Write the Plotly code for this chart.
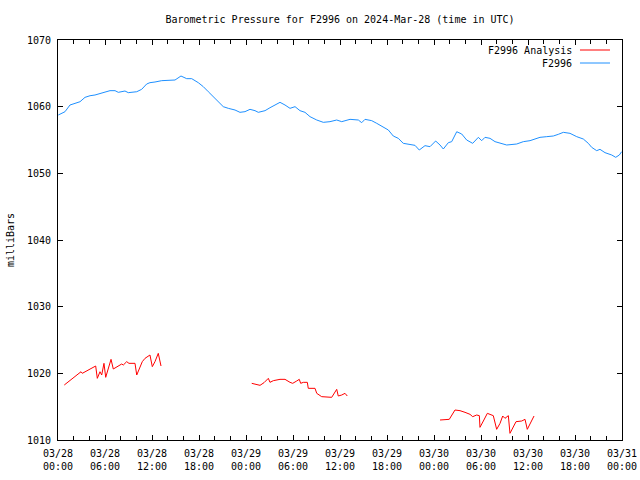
import plotly.graph_objects as go

# Blue series: F2996 (hours since 2024-03-28 00:00 UTC, millibars)
blue_hours = [0.04, 0.89, 1.53, 2.17, 2.81, 3.45, 4.09, 4.72, 5.58, 6.64, 7.28, 7.70, 8.55, 8.97,
              10.05, 10.68, 11.32, 11.74, 12.38, 13.24, 14.94, 15.70, 16.43, 17.07, 17.91, 18.55,
              19.19, 19.83, 20.46, 21.10, 21.74, 22.60, 23.23, 23.87, 24.51, 25.15, 25.57, 26.43,
              27.06, 27.70, 28.34, 28.98, 29.62, 30.26, 30.89, 31.53, 32.17, 33.03, 33.87, 34.72,
              35.58, 36.22, 37.28, 38.34, 38.77, 39.19, 40.05, 40.69, 41.53, 42.17, 42.80, 43.44,
              44.08, 44.94, 45.57, 46.12, 46.85, 47.49, 48.21, 48.77, 49.19, 49.83, 50.26, 50.90,
              51.54, 52.17, 52.60, 52.94, 53.66, 54.09, 54.51, 55.15, 55.79, 56.64, 57.28, 58.56,
              59.40, 60.26, 60.89, 61.53, 62.39, 63.23, 63.87, 64.51, 65.36, 66.22, 67.06, 67.70,
              68.13, 68.77, 69.19, 69.83, 70.69, 71.20, 71.66, 71.96]
blue_values = [1058.75, 1059.24, 1060.25, 1060.5, 1060.74, 1061.4, 1061.64, 1061.75, 1062.0, 1062.4,
               1062.4, 1062.15, 1062.35, 1062.1, 1062.24, 1062.6, 1063.4, 1063.6, 1063.7, 1063.9,
               1064.0, 1064.6, 1064.2, 1064.2, 1063.6, 1063.0, 1062.24, 1061.5, 1060.74, 1060.0,
               1059.75, 1059.5, 1059.15, 1059.25, 1059.6, 1059.4, 1059.15, 1059.4, 1059.84, 1060.25,
               1060.65, 1060.25, 1059.75, 1060.0, 1059.4, 1059.15, 1058.5, 1058.0, 1057.65, 1057.75,
               1058.0, 1057.75, 1058.1, 1058.0, 1057.6, 1058.1, 1057.9, 1057.5, 1056.9, 1056.5,
               1055.6, 1055.25, 1054.5, 1054.35, 1054.2, 1053.5, 1054.15, 1054.0, 1054.85, 1054.25,
               1053.65, 1054.6, 1054.75, 1056.24, 1055.9, 1055.0, 1054.75, 1054.5, 1055.4, 1054.9,
               1055.4, 1055.25, 1054.75, 1054.5, 1054.25, 1054.4, 1054.75, 1054.9, 1055.15, 1055.4,
               1055.5, 1055.6, 1055.85, 1056.15, 1056.0, 1055.5, 1055.15, 1054.5, 1053.9, 1053.4,
               1053.6, 1053.1, 1052.75, 1052.4, 1052.75, 1053.25]

# Red series: F2996 Analysis (None = gap)
red_hours = [0.80, 1.53, 2.17, 2.94, 3.10, 3.66, 4.30, 4.81, 5.02, 5.36, 5.58, 5.87, 6.09, 6.77,
             7.06, 7.70, 8.13, 8.34, 8.77, 9.06, 9.83, 10.05, 10.76, 11.11, 11.74, 12.04, 12.38,
             12.80, 13.15, None,
             24.73, 25.28, 25.79, 26.30, 26.85, 27.06, 27.49, 28.34, 28.98, 29.62, 29.96, 30.47,
             30.80, 30.98, 31.32, 31.83, 31.95, 32.81, 33.03, 33.66, 34.72, 34.94, 35.58, 35.78,
             36.22, 36.64, 36.93, None,
             48.77, 49.95, 50.68, 51.32, 51.96, 52.60, 52.94, 53.45, 53.79, 53.87, 54.30, 54.81,
             55.57, 56.00, 56.43, 56.77, 57.06, 57.49, 57.70, 58.47, 59.20, 59.62, 59.91, 60.77]
red_values = [1018.25, 1018.9, 1019.5, 1020.24, 1020.0, 1020.4, 1020.75, 1021.1, 1019.25, 1020.24,
              1019.75, 1021.5, 1019.4, 1022.1, 1020.65, 1021.1, 1021.4, 1021.25, 1021.75, 1021.5,
              1021.5, 1019.75, 1021.75, 1022.25, 1022.75, 1021.0, 1021.75, 1023.0, 1021.1, None,
              1018.5, 1018.4, 1018.2, 1018.6, 1019.25, 1018.65, 1018.9, 1019.1, 1019.1, 1018.65,
              1018.5, 1018.85, 1019.1, 1018.5, 1018.65, 1018.65, 1017.75, 1017.75, 1017.0, 1016.5,
              1016.4, 1016.4, 1017.6, 1016.6, 1016.75, 1017.0, 1016.6, None,
              1013.0, 1013.1, 1014.5, 1014.4, 1014.15, 1013.85, 1013.5, 1013.75, 1013.65, 1011.9,
              1012.85, 1014.0, 1013.65, 1011.6, 1012.5, 1013.6, 1013.25, 1013.65, 1011.0, 1012.75,
              1012.85, 1013.1, 1011.6, 1013.6]

x_tickvals = [0, 6, 12, 18, 24, 30, 36, 42, 48, 54, 60, 66, 72]
x_ticktext = ["03/28<br>00:00", "03/28<br>06:00", "03/28<br>12:00", "03/28<br>18:00",
              "03/29<br>00:00", "03/29<br>06:00", "03/29<br>12:00", "03/29<br>18:00",
              "03/30<br>00:00", "03/30<br>06:00", "03/30<br>12:00", "03/30<br>18:00",
              "03/31<br>00:00"]
y_tickvals = [1010, 1020, 1030, 1040, 1050, 1060, 1070]

RED = "#FF0000"
BLUE = "#1E90FF"
FONT = "DejaVu Sans Mono"

fig = go.Figure()
fig.add_trace(go.Scatter(x=red_hours, y=red_values, mode="lines", connectgaps=False,
                         line=dict(color=RED, width=1), name="F2996 Analysis", showlegend=False))
fig.add_trace(go.Scatter(x=blue_hours, y=blue_values, mode="lines",
                         line=dict(color=BLUE, width=1), name="F2996", showlegend=False))

axis_common = dict(showgrid=False, zeroline=False, showline=True, linecolor="black", linewidth=1,
                   mirror="ticks", ticks="inside", tickcolor="black", tickwidth=1,
                   automargin=False,
                   tickfont=dict(family=FONT, size=10, color="black"))

fig.update_xaxes(range=[0, 72], tickvals=x_tickvals, ticktext=x_ticktext, ticklen=5,
                 ticklabelstandoff=4,
                 minor=dict(dtick=2, tick0=0, ticks="inside", ticklen=4, tickcolor="black"),
                 **axis_common)
fig.update_yaxes(range=[1010, 1070], tickvals=y_tickvals, ticklen=5, ticklabelstandoff=4,
                 **axis_common)

# Legend drawn in gnuplot style: text right-aligned, line sample on the right
legend_rows = [("F2996 Analysis", RED, 0.975), ("F2996", BLUE, 0.9425)]
shapes = []
annotations = []
for label, color, yy in legend_rows:
    annotations.append(dict(x=0.915, y=yy, xref="paper", yref="paper", text=label,
                            showarrow=False, xanchor="right", yanchor="middle",
                            font=dict(family=FONT, size=10, color="black")))
    shapes.append(dict(type="line", xref="paper", yref="paper", x0=0.9255, x1=0.9787,
                       y0=yy, y1=yy, line=dict(color=color, width=1)))

annotations.append(dict(x=-0.085, y=0.5, xref="paper", yref="paper", text="milliBars",
                        showarrow=False, textangle=-90, xanchor="center", yanchor="middle",
                        font=dict(family=FONT, size=10, color="black")))

fig.update_layout(
    width=640, height=480,
    margin=dict(l=58, r=18, t=40, b=40, autoexpand=False),
    paper_bgcolor="white", plot_bgcolor="white",
    title=dict(text="Barometric Pressure for F2996 on 2024-Mar-28 (time in UTC)",
               xref="paper", x=0.5, xanchor="center", y=1 - 19 / 480, yanchor="middle",
               font=dict(family=FONT, size=10, color="black")),
    shapes=shapes, annotations=annotations, showlegend=False,
)

fig.write_html("out.html")
